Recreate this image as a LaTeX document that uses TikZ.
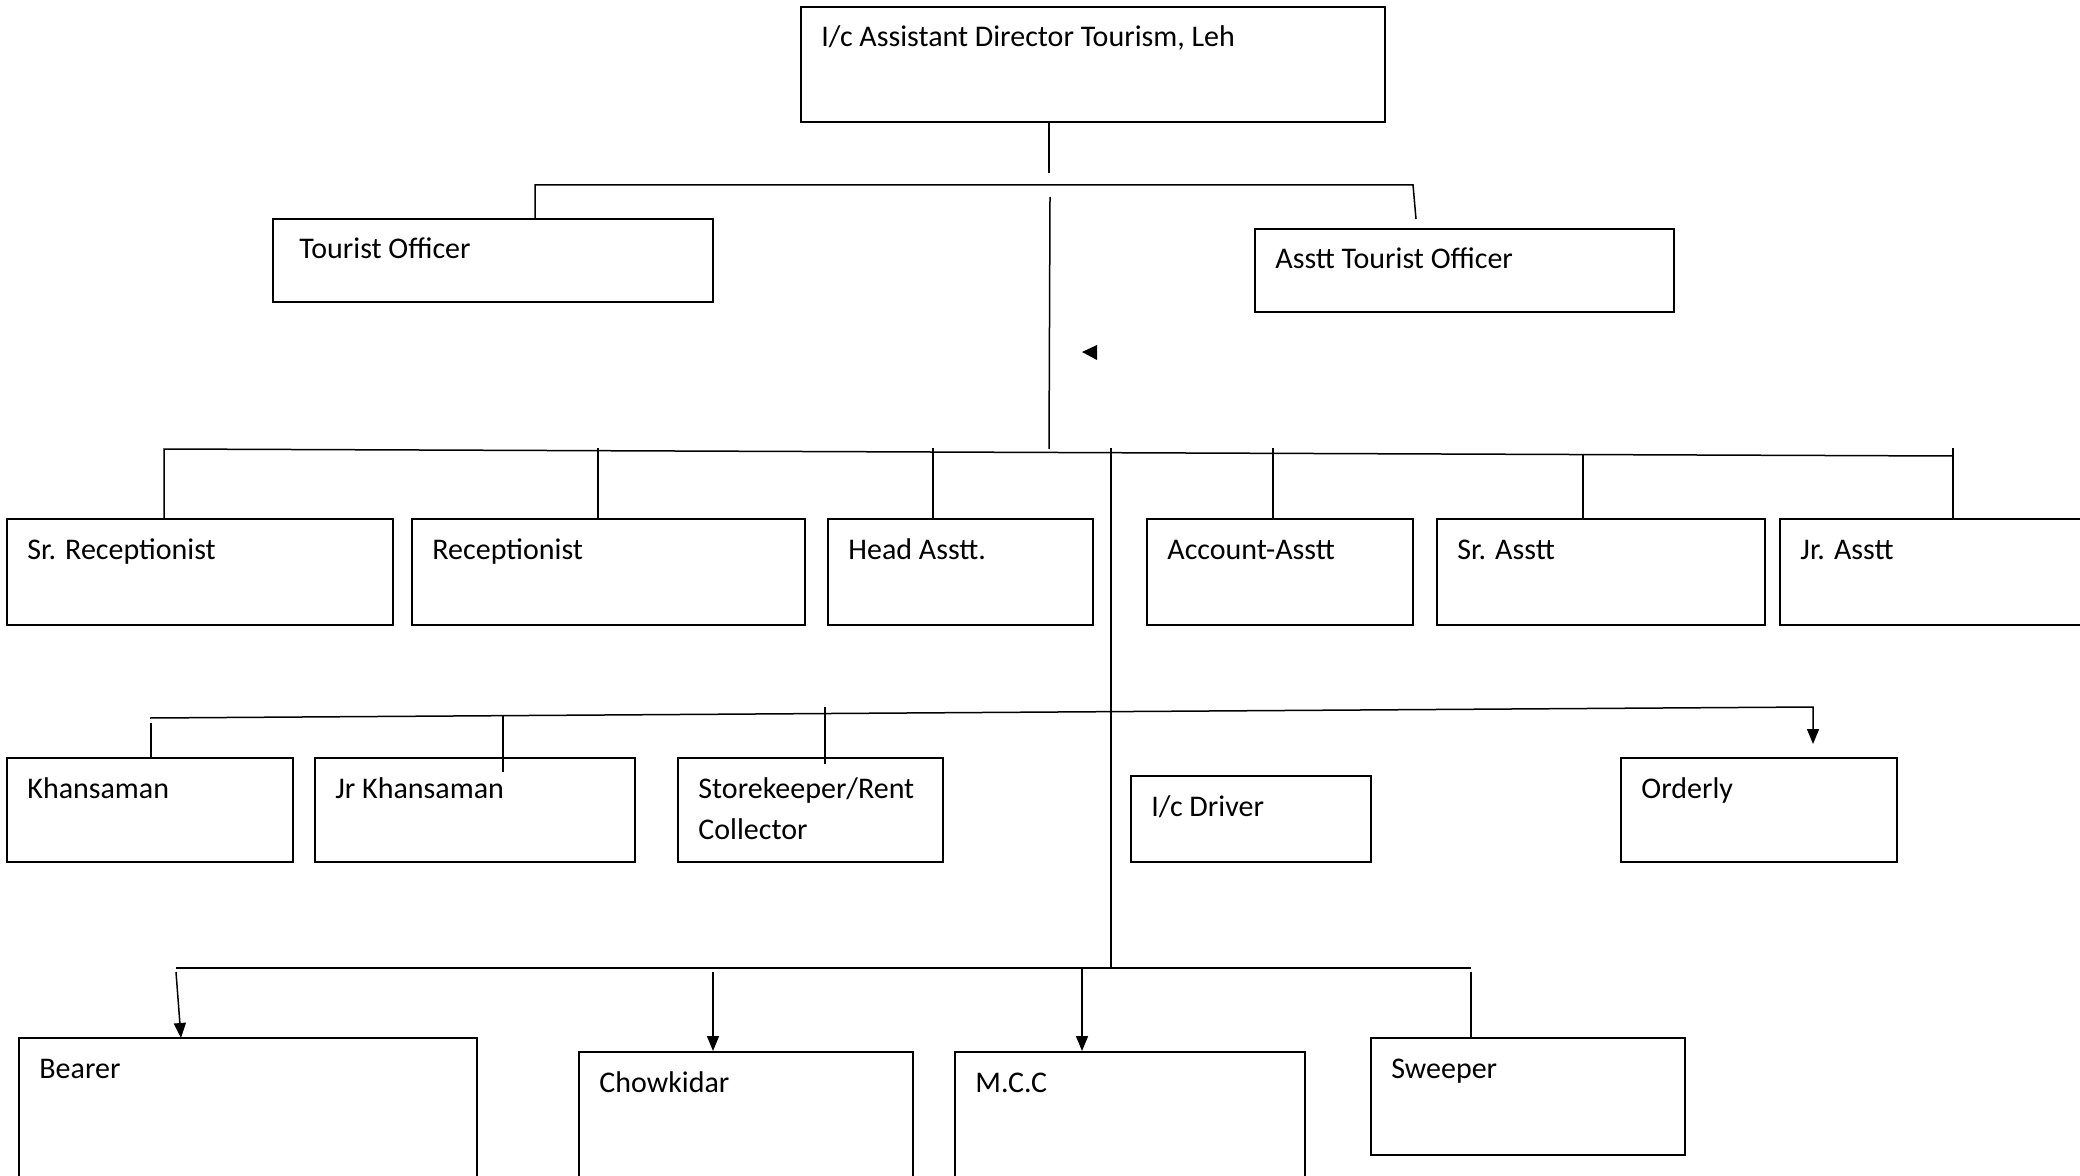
\documentclass[tikz,border=0pt]{standalone}
\usepackage{fontspec}
\setmainfont{Carlito}
\usetikzlibrary{fit,calc,arrows.meta}
\tikzset{
  box/.style={draw=black, line width=1pt, inner sep=0pt, fill=none},
  lbl/.style={anchor=base west, inner sep=0pt, font=\fontsize{15}{20.5}\selectfont, align=left},
  conn/.style={draw=black, line width=0.75pt},
  arr/.style={conn, -{Triangle[length=7.5pt,width=6pt]}},
}
\newcommand{\orgbox}[6]{%
  \node[box, fit={(#2,#3)(#4,#5)}] (#1) {};
  \node[lbl] (#1-t) at ($(#1.north west)+(21,41)$) {#6};}
\begin{document}
\begin{tikzpicture}[x=0.5pt,y=-0.5pt]
\clip (0,0) rectangle (2080,1176);
\fill[white] (0,0) rectangle (2080,1176);

% boxes
\orgbox{top}{801}{7}{1385}{122}{I/c Assistant Director Tourism, Leh}
\node[box, fit={(273,219)(713,302)}] (tourist) {};
\node[lbl] (tourist-t) at ($(tourist.north west)+(27,41)$) {Tourist Officer};
\orgbox{asstto}{1255}{229}{1674}{312}{Asstt Tourist Officer}

\orgbox{srrec}{7}{519}{393}{625}{Sr. Receptionist}
\orgbox{rec}{412}{519}{805}{625}{Receptionist}
\orgbox{head}{828}{519}{1093}{625}{Head Asstt.}
\orgbox{acc}{1147}{519}{1413}{625}{Account-Asstt}
\orgbox{srasst}{1437}{519}{1765}{625}{Sr. Asstt}
\orgbox{jrasst}{1780}{519}{2110}{625}{Jr. Asstt}

\orgbox{khan}{7}{758}{293}{862}{Khansaman}
\orgbox{jrkhan}{315}{758}{635}{862}{Jr Khansaman}
\node[box, fit={(678,758)(943,862)}] (store) {};
\node[lbl] (store-t) at ($(store.north west)+(21,82)$) {Storekeeper/Rent\\Collector};
\orgbox{driver}{1131}{776}{1371}{862}{I/c Driver}
\orgbox{orderly}{1621}{758}{1897}{862}{Orderly}

\orgbox{bearer}{19}{1038}{477}{1200}{Bearer}
\orgbox{chow}{579}{1052}{913}{1200}{Chowkidar}
\orgbox{mcc}{955}{1052}{1305}{1200}{M.C.C}
\orgbox{sweeper}{1371}{1038}{1685}{1155}{Sweeper}

% level 1 connectors
\coordinate (a1) at (1049,173);
\draw[conn] (top.south -| a1) -- (a1);
\coordinate (h1l) at (535,185);
\coordinate (h1r) at (1413,185);
\coordinate (h1e) at (1416,219);
\draw[conn] (h1l |- tourist.north) -- (h1l) -- (h1r) -- (h1e);

% main vertical
\coordinate (v2t) at (1050,197);
\coordinate (v2b) at (1049,449);
\draw[conn] (v2t) -- (v2b);

% stray triangle
\fill[black] (1082,352) -- (1097,345) -- (1097,360) -- cycle;

% level 2 connectors
\coordinate (r2l) at (164,449);
\coordinate (r2r) at (1953,456);
\draw[conn] (r2l |- srrec.north) -- (r2l) -- (r2r);
\coordinate (t2a) at (598,448);
\draw[conn] (t2a) -- (t2a |- rec.north);
\coordinate (t2b) at (933,448);
\draw[conn] (t2b) -- (t2b |- head.north);
\coordinate (t2c) at (1273,448);
\draw[conn] (t2c) -- (t2c |- acc.north);
\coordinate (t2d) at (1583,454);
\draw[conn] (t2d) -- (t2d |- srasst.north);
\coordinate (t2e) at (1953,448);
\draw[conn] (t2e) -- (t2e |- jrasst.north);

% long vertical
\coordinate (lvt) at (1111,448);
\coordinate (lvb) at (1111,968);
\draw[conn] (lvt) -- (lvb);

% level 3 connectors
\coordinate (r3l) at (150,718);
\coordinate (r3r) at (1813,707);
\coordinate (r3a) at (1813,744);
\draw[arr] (r3l) -- (r3r) -- (r3a);
\coordinate (t3a) at (151,723);
\draw[conn] (t3a) -- (t3a |- khan.north);
\coordinate (t3b) at (503,716);
\coordinate (t3bb) at (503,772);
\draw[conn] (t3b) -- (t3bb);
\coordinate (t3c) at (825,707);
\coordinate (t3cb) at (825,764);
\draw[conn] (t3c) -- (t3cb);

% level 4 connectors
\coordinate (r4l) at (176,968);
\coordinate (r4r) at (1471,968);
\draw[conn, line width=1pt] (r4l) -- (r4r);
\coordinate (t4a) at (176,972);
\coordinate (t4ab) at (181,1038);
\draw[arr] (t4a) -- (t4ab);
\coordinate (t4b) at (713,972);
\draw[arr] (t4b) -- (t4b |- chow.north);
\coordinate (t4c) at (1082,968);
\draw[arr] (t4c) -- (t4c |- mcc.north);
\coordinate (t4d) at (1471,972);
\draw[conn] (t4d) -- (t4d |- sweeper.north);
\end{tikzpicture}
\end{document}
